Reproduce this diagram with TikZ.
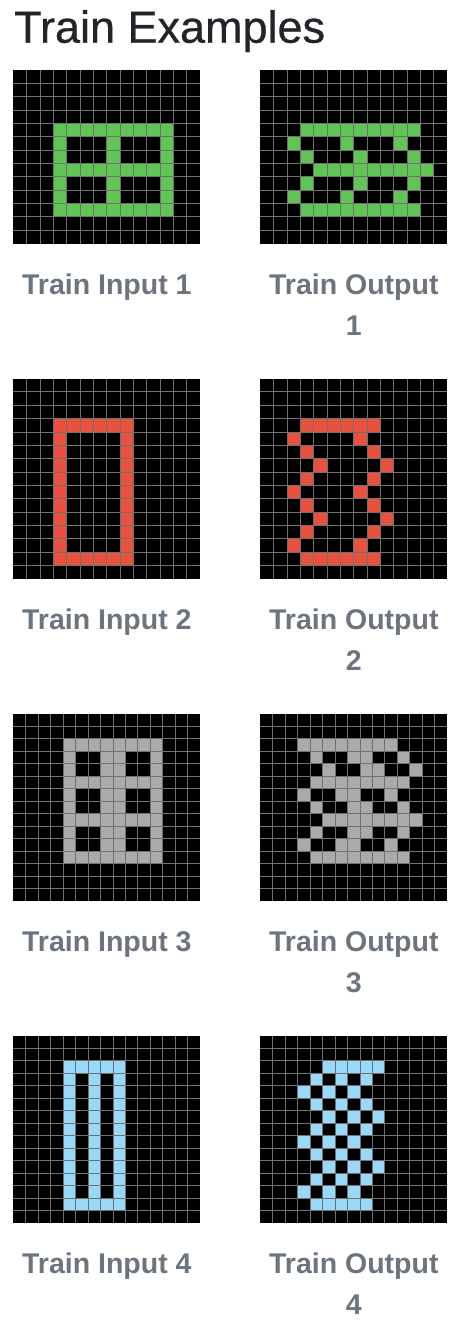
\documentclass[tikz,border=0pt]{standalone}
\usepackage{fontspec}
\setmainfont{Liberation Sans}
\newfontfamily\headfont[FakeBold=0.6]{Liberation Sans}
\usetikzlibrary{positioning}

\definecolor{headgray}{HTML}{212529}
\definecolor{captiongray}{HTML}{6C757D}
\definecolor{linegray}{HTML}{707070}
\definecolor{arcgreen}{HTML}{61C556}
\definecolor{arcred}{HTML}{E9513F}
\definecolor{arcgray}{HTML}{AAAAAA}
\definecolor{arcblue}{HTML}{98D9FA}

\tikzset {
  board/.style = {
    fill = black,
    draw = none,
    inner sep = 0,
    outer sep = 0,
    minimum width = 187pt
  },
  % thin lines between the cells
  cell lines/.style = {
    draw = linegray,
    line width = 1pt
  },
  heading/.style = {
    anchor = base west,
    inner sep = 0,
    text = headgray,
    font = \headfont\fontsize{45}{54}\selectfont
  },
  caption/.style = {
    anchor = base,
    inner sep = 0,
    text = captiongray,
    font = \fontsize{28.5}{34}\selectfont\bfseries
  }
}

\begin{document}
\begin{tikzpicture}[x=1pt, y=-1pt]
    \useasboundingbox (0,0) rectangle (472,1334);

    \node[heading] (title) at (14,42.7) {Train Examples};

    % boards
    \node[board, minimum height=173.6pt, anchor=north west] (in1) at (13.3,70) {};
    \node[board, minimum height=173.6pt] (out1) [right=60pt of in1] {};

    \node[board, minimum height=200.4pt, anchor=north] (in2) [below=135pt of in1] {};
    \node[board, minimum height=200.4pt] (out2) [right=60pt of in2] {};

    \node[board, minimum height=187pt, anchor=north] (in3) [below=135pt of in2] {};
    \node[board, minimum height=187pt] (out3) [right=60pt of in3] {};

    \node[board, minimum height=187pt, anchor=north] (in4) [below=135pt of in3] {};
    \node[board, minimum height=187pt] (out4) [right=60pt of in4] {};

    % input 1
    \begin{scope}[shift={(in1.north west)}, x=13.357pt, y=-13.357pt]
      \fill[arcgreen] (3,4) rectangle (12,11);
      \fill[black] (4,5) rectangle (7,7) (8,5) rectangle (11,7)
                   (4,8) rectangle (7,10) (8,8) rectangle (11,10);
      \foreach \i in {1,...,13} \draw[cell lines] (\i,0) -- (\i,13);
      \foreach \j in {1,...,12} \draw[cell lines] (0,\j) -- (14,\j);
    \end{scope}

    % output 1
    \begin{scope}[shift={(out1.north west)}, x=13.357pt, y=-13.357pt]
      \foreach \r/\cs in {4/{3,...,11}, 5/{2,6,10}, 6/{3,7,11}, 7/{4,...,12},
                          8/{3,7,11}, 9/{2,6,10}, 10/{3,...,11}}
        \foreach \c in \cs \fill[arcgreen] (\c,\r) rectangle ++(1,1);
      \foreach \i in {1,...,13} \draw[cell lines] (\i,0) -- (\i,13);
      \foreach \j in {1,...,12} \draw[cell lines] (0,\j) -- (14,\j);
    \end{scope}

    % input 2
    \begin{scope}[shift={(in2.north west)}, x=13.357pt, y=-13.357pt]
      \fill[arcred] (3,3) rectangle (9,14);
      \fill[black] (4,4) rectangle (8,13);
      \foreach \i in {1,...,13} \draw[cell lines] (\i,0) -- (\i,15);
      \foreach \j in {1,...,14} \draw[cell lines] (0,\j) -- (14,\j);
    \end{scope}

    % output 2
    \begin{scope}[shift={(out2.north west)}, x=13.357pt, y=-13.357pt]
      \foreach \r/\cs in {3/{3,...,8}, 4/{2,7}, 5/{3,8}, 6/{4,9}, 7/{3,8},
                          8/{2,7}, 9/{3,8}, 10/{4,9}, 11/{3,8}, 12/{2,7},
                          13/{3,...,8}}
        \foreach \c in \cs \fill[arcred] (\c,\r) rectangle ++(1,1);
      \foreach \i in {1,...,13} \draw[cell lines] (\i,0) -- (\i,15);
      \foreach \j in {1,...,14} \draw[cell lines] (0,\j) -- (14,\j);
    \end{scope}

    % input 3
    \begin{scope}[shift={(in3.north west)}, x=12.467pt, y=-12.467pt]
      \fill[arcgray] (4,2) rectangle (12,12);
      \foreach \r in {3,6,9}
        \fill[black] (5,\r) rectangle ++(2,2) (9,\r) rectangle ++(2,2);
      \foreach \i in {1,...,14} \draw[cell lines] (\i,0) -- (\i,15);
      \foreach \j in {1,...,14} \draw[cell lines] (0,\j) -- (15,\j);
    \end{scope}

    % output 3
    \begin{scope}[shift={(out3.north west)}, x=12.467pt, y=-12.467pt]
      \foreach \r/\cs in {2/{3,...,10}, 3/{4,7,8,11}, 4/{5,8,9,12},
                          5/{4,...,11}, 6/{3,6,7,10}, 7/{4,7,8,11},
                          8/{5,...,12}, 9/{4,7,8,11}, 10/{3,6,7,10},
                          11/{4,...,11}}
        \foreach \c in \cs \fill[arcgray] (\c,\r) rectangle ++(1,1);
      \foreach \i in {1,...,14} \draw[cell lines] (\i,0) -- (\i,15);
      \foreach \j in {1,...,14} \draw[cell lines] (0,\j) -- (15,\j);
    \end{scope}

    % input 4
    \begin{scope}[shift={(in4.north west)}, x=12.467pt, y=-12.467pt]
      \fill[arcblue] (4,2) rectangle (9,14);
      \fill[black] (5,3) rectangle (6,13) (7,3) rectangle (8,13);
      \foreach \i in {1,...,14} \draw[cell lines] (\i,0) -- (\i,15);
      \foreach \j in {1,...,14} \draw[cell lines] (0,\j) -- (15,\j);
    \end{scope}

    % output 4
    \begin{scope}[shift={(out4.north west)}, x=12.467pt, y=-12.467pt]
      \foreach \r/\cs in {2/{5,...,9}, 3/{4,6,8}, 4/{3,5,7}, 5/{4,6,8},
                          6/{5,7,9}, 7/{4,6,8}, 8/{3,5,7}, 9/{4,6,8},
                          10/{5,7,9}, 11/{4,6,8}, 12/{3,5,7}, 13/{4,...,8}}
        \foreach \c in \cs \fill[arcblue] (\c,\r) rectangle ++(1,1);
      \foreach \i in {1,...,14} \draw[cell lines] (\i,0) -- (\i,15);
      \foreach \j in {1,...,14} \draw[cell lines] (0,\j) -- (15,\j);
    \end{scope}

    % captions
    \node[caption] (in1 label) at ([yshift=-50.7pt]in1.south) {Train Input 1};
    \node[caption] (out1 label) at ([yshift=-50.7pt]out1.south) {Train Output};
    \node[caption] (out1 num) at ([yshift=-41pt]out1 label.base) {1};

    \node[caption] (in2 label) at ([yshift=-50.7pt]in2.south) {Train Input 2};
    \node[caption] (out2 label) at ([yshift=-50.7pt]out2.south) {Train Output};
    \node[caption] (out2 num) at ([yshift=-41pt]out2 label.base) {2};

    \node[caption] (in3 label) at ([yshift=-50.7pt]in3.south) {Train Input 3};
    \node[caption] (out3 label) at ([yshift=-50.7pt]out3.south) {Train Output};
    \node[caption] (out3 num) at ([yshift=-41pt]out3 label.base) {3};

    \node[caption] (in4 label) at ([yshift=-50.7pt]in4.south) {Train Input 4};
    \node[caption] (out4 label) at ([yshift=-50.7pt]out4.south) {Train Output};
    \node[caption] (out4 num) at ([yshift=-41pt]out4 label.base) {4};
\end{tikzpicture}
\end{document}
